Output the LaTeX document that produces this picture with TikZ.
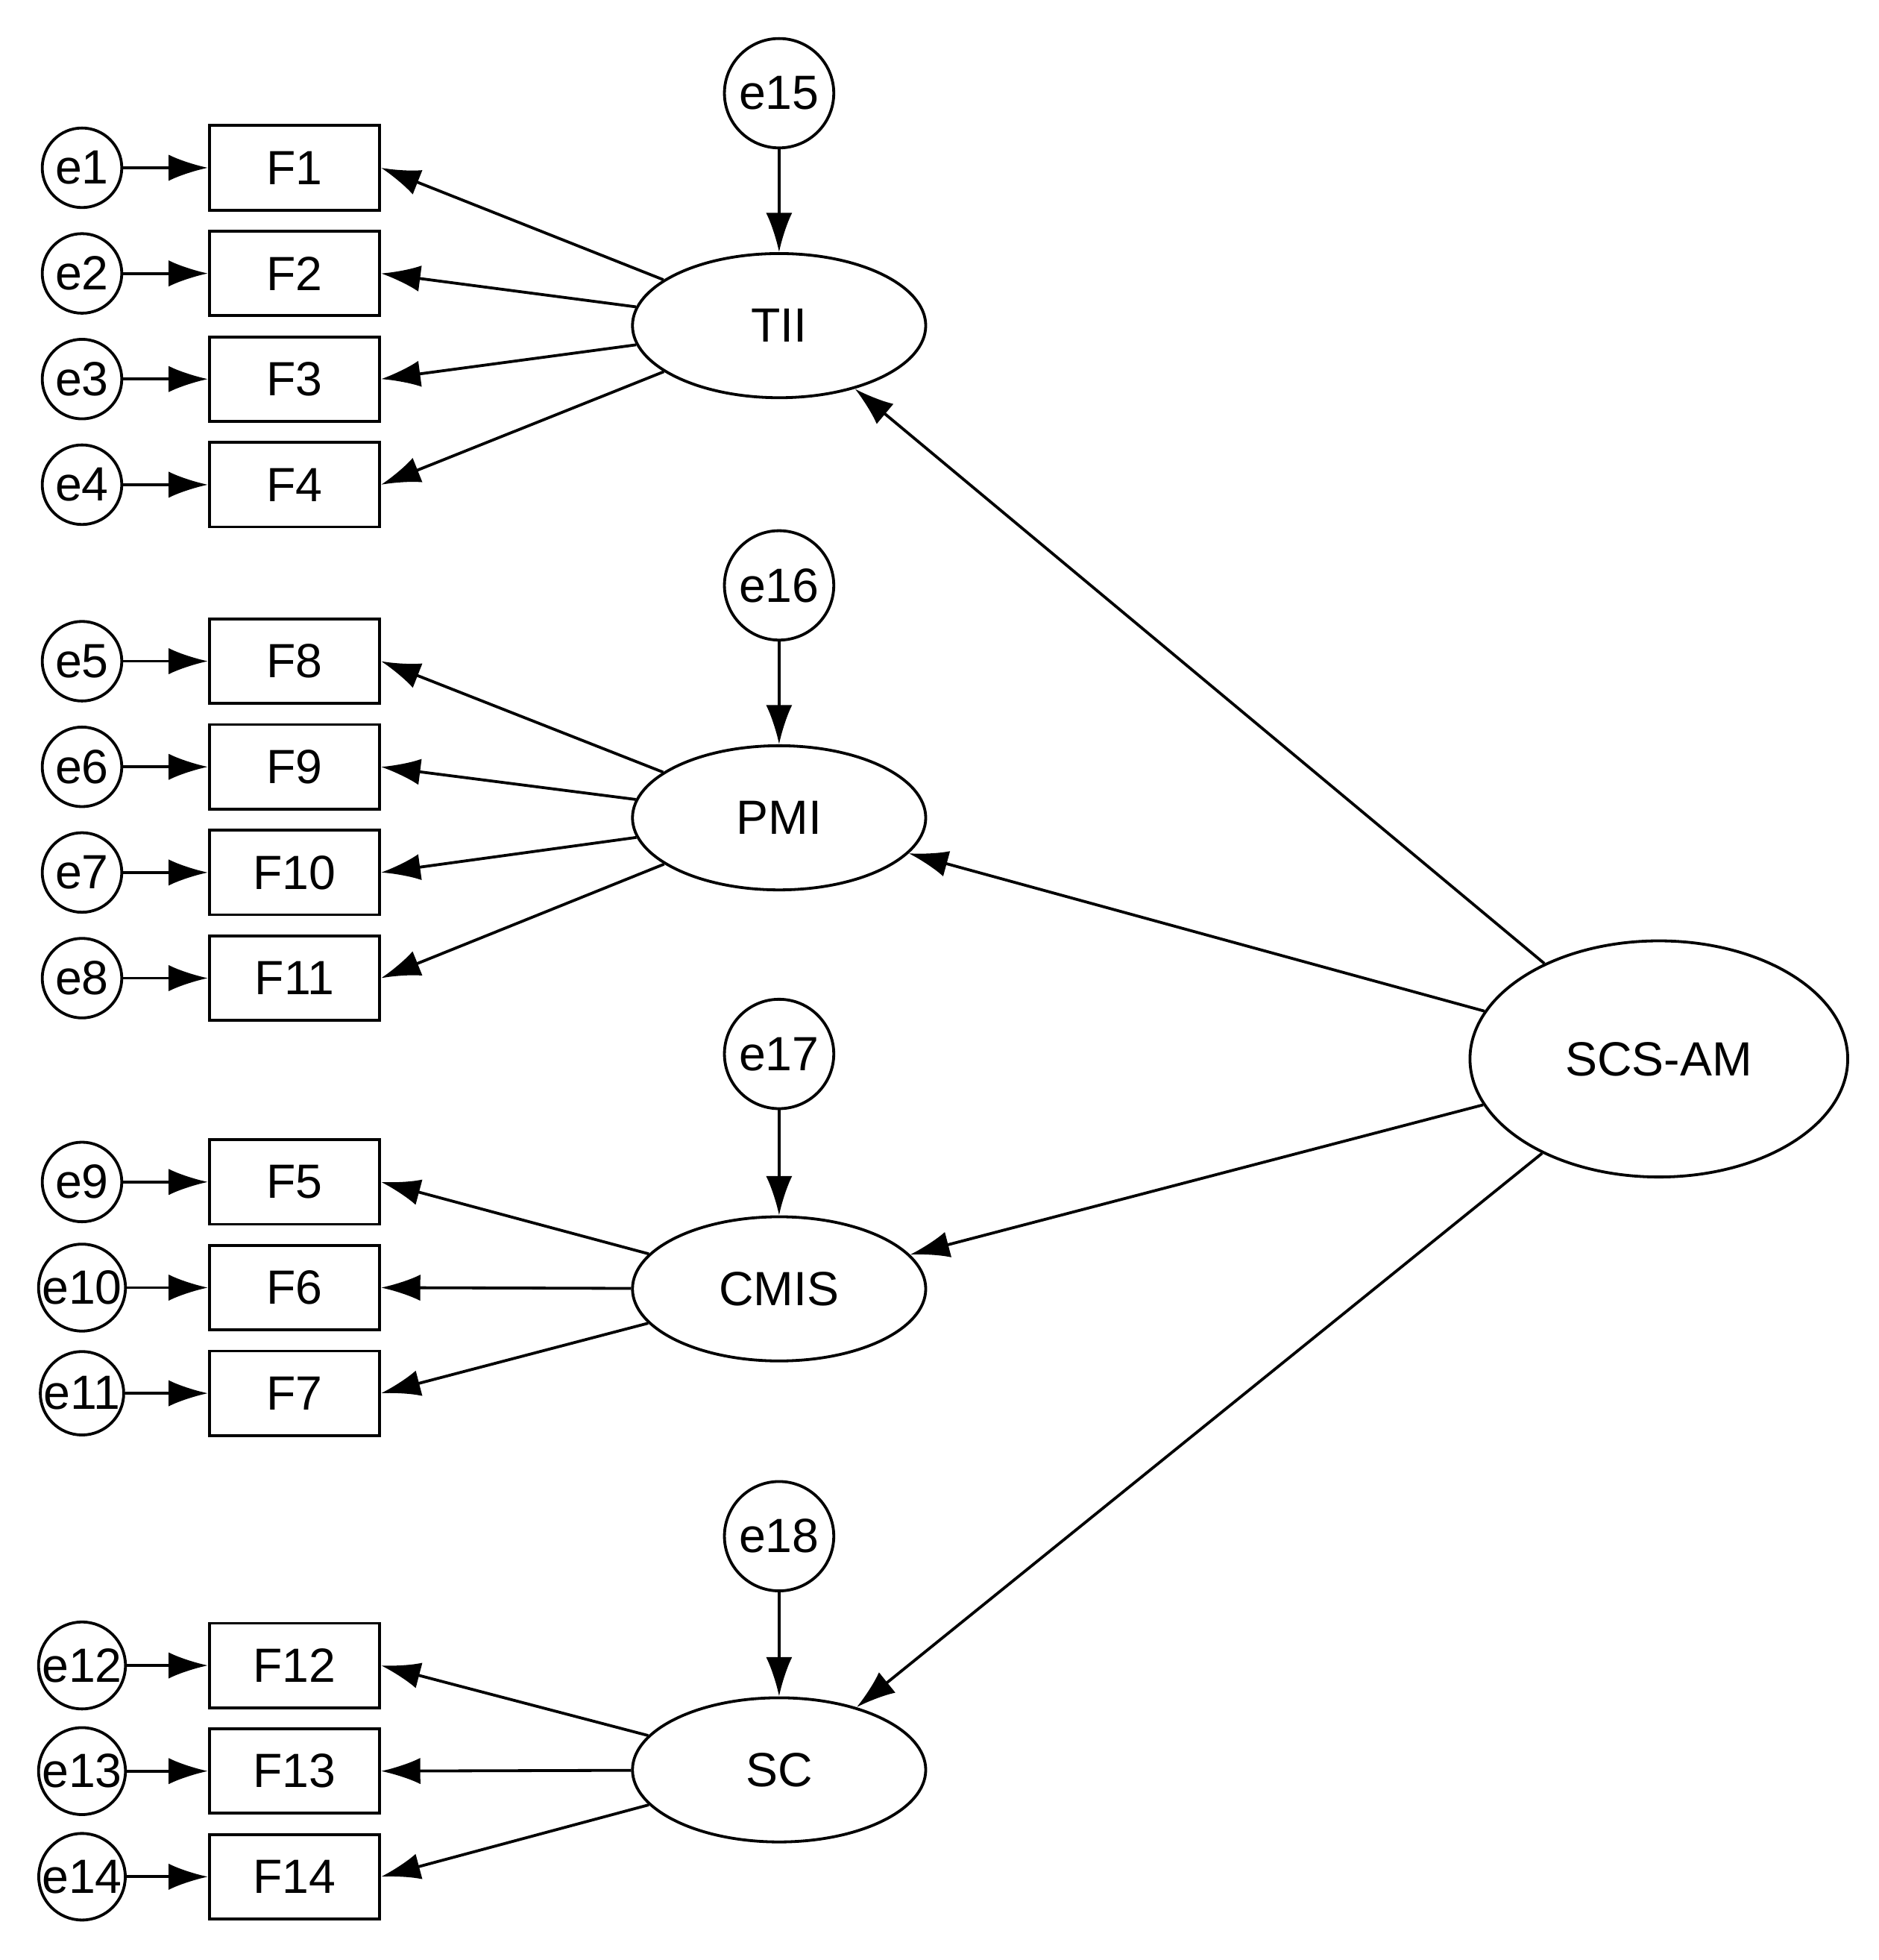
\documentclass[tikz,border=0pt]{standalone}
\usepackage{fontspec}
\setmainfont{Liberation Sans}
\usetikzlibrary{shapes.geometric,arrows.meta}
\begin{document}
\begin{tikzpicture}[x=0.02cm,y=-0.02cm,
  every node/.style={font=\fontsize{22}{26}\selectfont, line width=1.3pt, draw, inner sep=0pt},
  err/.style={circle, minimum size=64*0.02cm},
  err2/.style={circle, minimum size=88*0.02cm},
  obs/.style={rectangle, minimum width=137*0.02cm, minimum height=68*0.02cm},
  lat/.style={ellipse, minimum width=236*0.02cm, minimum height=116*0.02cm},
  arr/.style={line width=1.3pt, -{Latex[length=18pt,width=12pt]}}]
\useasboundingbox (0,0) rectangle (1512,1577);
\foreach \i/\y in {1/135,2/220,3/305,4/390,5/532,6/617,7/702,8/787,9/951,10/1036,11/1121,12/1340,13/1425,14/1510}
  \node[err] (e\i) at (66,\y) {e\i};
\foreach \i/\n/\y in {1/F1/135,2/F2/220,3/F3/305,4/F4/390,5/F8/532,6/F9/617,7/F10/702,8/F11/787,9/F5/951,10/F6/1036,11/F7/1121,12/F12/1340,13/F13/1425,14/F14/1510}
  \node[obs] (b\i) at (237,\y) {\n};
\foreach \i in {1,...,14} \draw[arr] (e\i) -- (b\i);
\node[lat] (TII) at (627,262) {TII};
\node[lat] (PMI) at (627,658) {PMI};
\node[lat] (CMIS) at (627,1037) {CMIS};
\node[lat] (SC) at (627,1424) {SC};
\node[err2] (e15) at (627,75) {e15};
\node[err2] (e16) at (627,471) {e16};
\node[err2] (e17) at (627,848) {e17};
\node[err2] (e18) at (627,1236) {e18};
\node[ellipse, minimum width=304*0.02cm, minimum height=190*0.02cm] (S) at (1335,852) {SCS-AM};
\draw[arr] (e15) -- (TII); \draw[arr] (e16) -- (PMI);
\draw[arr] (e17) -- (CMIS); \draw[arr] (e18) -- (SC);
\foreach \i in {1,...,4} \draw[arr] (TII) -- (b\i.east);
\foreach \i in {5,...,8} \draw[arr] (PMI) -- (b\i.east);
\foreach \i in {9,10,11} \draw[arr] (CMIS) -- (b\i.east);
\foreach \i in {12,13,14} \draw[arr] (SC) -- (b\i.east);
\draw[arr] (S) -- (TII); \draw[arr] (S) -- (PMI);
\draw[arr] (S) -- (CMIS); \draw[arr] (S) -- (SC);
\end{tikzpicture}
\end{document}
